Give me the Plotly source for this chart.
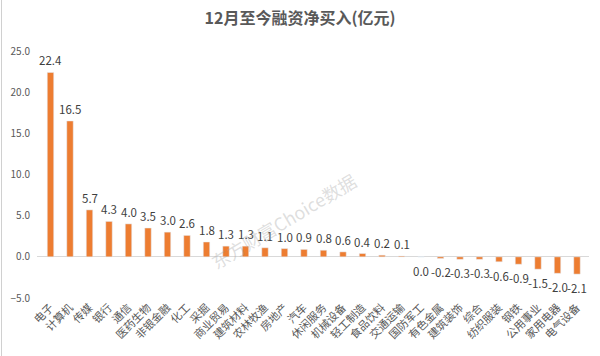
import plotly.graph_objects as go

categories = ["电子", "计算机", "传媒", "银行", "通信", "医药生物", "非银金融", "化工", "采掘",
              "商业贸易", "建筑材料", "农林牧渔", "房地产", "汽车", "休闲服务", "机械设备", "轻工制造",
              "食品饮料", "交通运输", "国防军工", "有色金属", "建筑装饰", "综合", "纺织服装", "钢铁",
              "公用事业", "家用电器", "电气设备"]
values = [22.4, 16.5, 5.7, 4.3, 4.0, 3.5, 3.0, 2.6, 1.8, 1.3, 1.3, 1.1, 1.0, 0.9, 0.8, 0.6, 0.4,
          0.2, 0.1, 0.0, -0.2, -0.3, -0.3, -0.6, -0.9, -1.5, -2.0, -2.1]
y_ticks = [-5, 0, 5, 10, 15, 20, 25]
title = "12月至今融资净买入(亿元)"

FONT = "Noto Sans CJK SC"
W, H = 600, 356
L, R, T, B = 37, 11, 51, 58

fig = go.Figure()
fig.add_trace(go.Bar(
    x=categories, y=values, marker_color="#ED7D31", width=0.33, showlegend=False,
))

for c, v in zip(categories, values):
    fig.add_annotation(
        x=c, y=v, text=f"{v:.1f}", showarrow=False, yanchor="middle",
        yshift=12 if v > 0 else -14,
        font=dict(family=FONT, size=11.5, color="#404040"),
    )

fig.update_layout(
    width=W, height=H,
    margin=dict(l=L, r=R, t=T, b=B),
    plot_bgcolor="white", paper_bgcolor="white",
    title=dict(text="<b>" + title + "</b>", x=0.5, xanchor="center", y=1 - 18 / H, yanchor="middle",
               font=dict(family=FONT, size=16, color="#595959")),
    font=dict(family=FONT, color="#595959"),
    bargap=0.6,
)
fig.update_xaxes(
    tickangle=-45, tickfont=dict(family=FONT, size=11, color="#595959"),
    showgrid=False, showline=False, ticks="", automargin=False,
)
fig.update_yaxes(
    range=[-5, 25], tickvals=y_ticks, tickformat=".1f",
    tickfont=dict(family=FONT, size=10, color="#595959"),
    showgrid=False, zeroline=True, zerolinecolor="#D9D9D9", zerolinewidth=1,
    showline=False, ticks="", automargin=False, ticklabelstandoff=6,
)

pw = W - L - R
ph = H - T - B
fig.add_shape(type="line", xref="paper", yref="paper",
              x0=(1.5 - L) / pw, x1=(1.5 - L) / pw, y0=-B / ph, y1=1 + T / ph,
              line=dict(color="#D0D0D0", width=1))

fig.add_annotation(
    text="东方财富Choice数据", xref="paper", yref="paper",
    x=(283 - L) / pw, y=(H - B - 221) / ph, xanchor="center", yanchor="middle",
    showarrow=False, textangle=-31,
    font=dict(family=FONT, size=18, color="rgba(160,160,160,0.35)"),
)

fig.write_html("out.html", config={"displayModeBar": False},
               post_script="document.body.style.margin='0';")
